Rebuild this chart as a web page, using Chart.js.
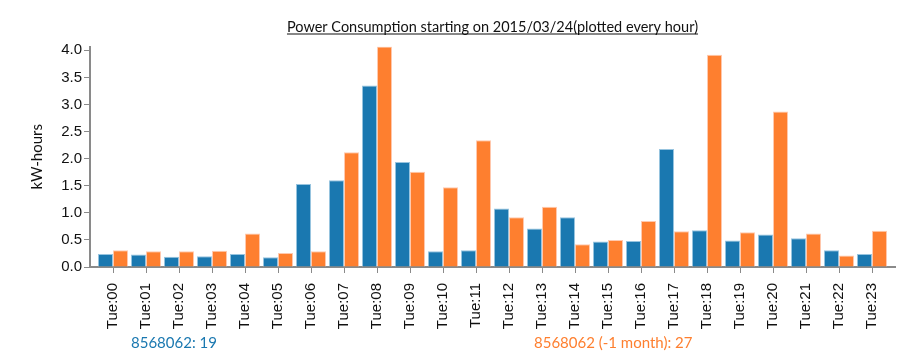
<!DOCTYPE html>
<html>
<head>
<meta charset="utf-8">
<script src="https://cdn.jsdelivr.net/npm/chart.js@4"></script>
<style>
  html, body { margin: 0; padding: 0; background: #fff; }
  #wrap { width: 924px; height: 360px; }
</style>
</head>
<body>
<div id="wrap"><canvas id="power-chart" width="924" height="360"></canvas></div>
<script>
const hours = ['Tue:00','Tue:01','Tue:02','Tue:03','Tue:04','Tue:05','Tue:06','Tue:07','Tue:08','Tue:09','Tue:10','Tue:11',
               'Tue:12','Tue:13','Tue:14','Tue:15','Tue:16','Tue:17','Tue:18','Tue:19','Tue:20','Tue:21','Tue:22','Tue:23'];
const thisPeriod = [0.24, 0.23, 0.19, 0.20, 0.24, 0.18, 1.53, 1.60, 3.35, 1.94, 0.29, 0.31,
                    1.08, 0.71, 0.92, 0.47, 0.48, 2.18, 0.68, 0.49, 0.60, 0.53, 0.31, 0.24];
const lastMonth = [0.31, 0.29, 0.29, 0.30, 0.62, 0.26, 0.29, 2.12, 4.07, 1.76, 1.47, 2.34,
                   0.92, 1.11, 0.42, 0.50, 0.85, 0.66, 3.92, 0.64, 2.87, 0.62, 0.21, 0.67];
const seriesNames = ['8568062: 19', '8568062 (-1 month): 27'];
const yTicks = [0, 0.5, 1, 1.5, 2, 2.5, 3, 3.5, 4];
const titleText = 'Power Consumption starting on 2015/03/24(plotted every hour)';

const blue = '#1a78b0';
const orange = '#fe7f2f';
const axisGrey = '#8a8a8a';

// title (underlined) and the two legend texts under the axis
const textPlugin = {
    id: 'texts',
    afterDraw(chart) {
        const ctx = chart.ctx;
        const area = chart.chartArea;
        ctx.save();
        ctx.font = '14.5px Lato';
        ctx.fillStyle = '#111';
        ctx.textAlign = 'center';
        ctx.textBaseline = 'alphabetic';
        const cx = (area.left + area.right) / 2;
        ctx.fillText(titleText, cx, 32);
        const w = ctx.measureText(titleText).width;
        ctx.fillRect(cx - w / 2, 33.5, w, 1);

        ctx.font = '15px Lato';
        ctx.textAlign = 'left';
        ctx.fillStyle = blue;
        ctx.fillText(seriesNames[0], area.left + 34.5, 348);
        ctx.fillStyle = orange;
        ctx.fillText(seriesNames[1], area.left + 437.5, 348);
        ctx.restore();
    }
};

// axes lines reach a little past the outer bands, like the d3 original
const axisStretch = {
    id: 'axisStretch',
    afterLayout(chart) {
        const x = chart.scales.x, y = chart.scales.y;
        x.left -= 6.5;
        x.right += 6.5;
        y.right -= 6.5;
    }
};

const ctx = document.getElementById('power-chart').getContext('2d');
const powerChart = new Chart(ctx, {
    type: 'bar',
    data: {
        labels: hours,
        datasets: [
            {
                label: seriesNames[0],
                data: thisPeriod,
                backgroundColor: blue,
                borderColor: 'rgba(140, 190, 220, 0.9)',
                borderWidth: 1,
                borderSkipped: 'bottom',
                categoryPercentage: 0.91,
                barPercentage: 1.0
            },
            {
                label: seriesNames[1],
                data: lastMonth,
                backgroundColor: orange,
                borderColor: 'rgba(255, 195, 165, 0.9)',
                borderWidth: 1,
                borderSkipped: 'bottom',
                categoryPercentage: 0.91,
                barPercentage: 1.0
            }
        ]
    },
    options: {
        responsive: false,
        animation: false,
        layout: { padding: { top: 46.5, right: 35.5, left: 0, bottom: 0 } },
        plugins: {
            legend: { display: false },
            title: { display: false },
            tooltip: { enabled: false }
        },
        scales: {
            x: {
                offset: true,
                grid: { display: true, drawOnChartArea: false, offset: false, color: axisGrey, lineWidth: 1, tickLength: 6 },
                border: { display: true, color: axisGrey, width: 2 },
                ticks: {
                    minRotation: 90, maxRotation: 90, autoSkip: false, padding: 10,
                    color: '#111', font: { family: 'Liberation Sans', size: 15 }
                },
                afterFit(scale) { scale.height = 93; }
            },
            y: {
                min: 0,
                max: Math.max(...thisPeriod, ...lastMonth),
                grid: { display: true, drawOnChartArea: false, color: axisGrey, lineWidth: 1, tickLength: 6 },
                border: { display: true, color: axisGrey, width: 2 },
                ticks: {
                    padding: 2, color: '#111', font: { family: 'Liberation Sans', size: 15 },
                    callback: (v) => v.toFixed(1)
                },
                afterBuildTicks(scale) {
                    scale.ticks = yTicks.map(v => ({ value: v }));
                },
                title: {
                    display: true, text: 'kW-hours', color: '#111',
                    font: { family: 'Lato', size: 15 }, padding: { top: 28, bottom: 0 }
                },
                afterFit(scale) { scale.width = 96.5; }
            }
        }
    },
    plugins: [textPlugin, axisStretch]
});
</script>
</body>
</html>
